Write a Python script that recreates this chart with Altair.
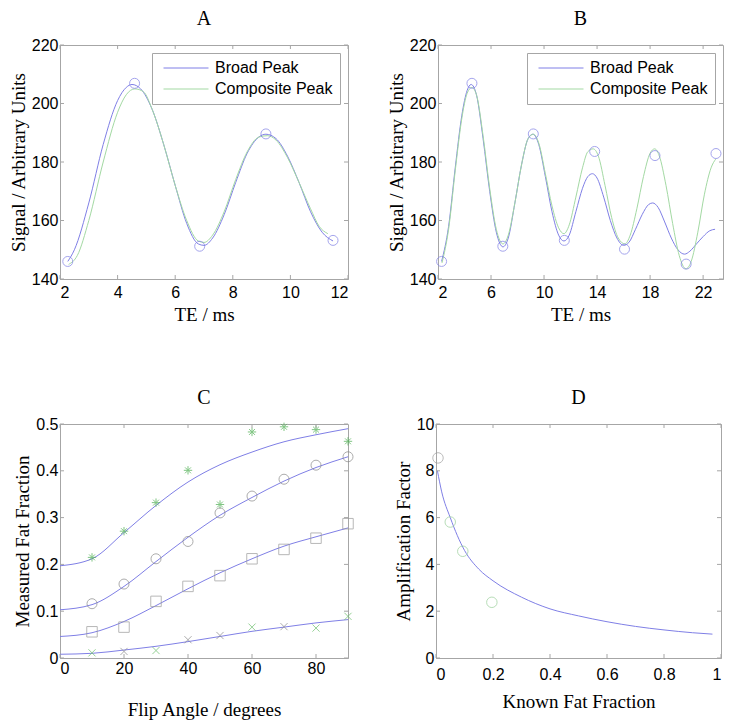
import altair as alt
import pandas as pd

BLUE = "#7f7fe6"
GREEN = "#a3d9a3"
GRAY = "#a6a6a6"
SANS = "Liberation Sans"
SERIF = "Liberation Serif"

# ---------------- Panel A ----------------
a_broad_x = [2.27, 2.5, 3.0, 3.5, 4.0, 4.3, 4.5, 4.8, 5.2, 5.6, 6.0, 6.4, 6.8, 7.0, 7.3, 7.7, 8.1, 8.5, 8.9, 9.15, 9.5, 9.9, 10.3, 10.7, 11.1, 11.48]
a_broad_y = [146, 150, 166, 186, 201, 205.5, 206.5, 205, 198, 186, 172, 159, 152, 151.5, 154, 162, 173, 183, 188.5, 189.5, 188, 182, 173, 163, 156, 153]
a_comp_x = [2.3, 2.6, 3.0, 3.5, 4.0, 4.3, 4.6, 4.9, 5.2, 5.6, 6.0, 6.4, 6.8, 7.0, 7.3, 7.7, 8.1, 8.5, 8.9, 9.2, 9.5, 9.9, 10.3, 10.7, 11.0, 11.3]
a_comp_y = [145, 148, 160, 180, 197, 203, 205, 204, 198, 186, 172, 160, 153, 152.5, 155, 163, 174, 183.5, 188.5, 189, 187.5, 181.5, 173, 164, 158, 155.5]
a_pts_x = [2.27, 4.59, 6.85, 9.15, 11.48]
a_pts_y = [146.0, 206.9, 151.2, 189.6, 153.2]

# ---------------- Panel B ----------------
b_broad_x = [2.27, 2.8, 3.3, 3.8, 4.2, 4.5, 4.9, 5.4, 5.9, 6.4, 6.9, 7.3, 7.8, 8.3, 8.8, 9.15, 9.6, 10.1, 10.6, 11.1, 11.5, 11.9, 12.4, 12.9, 13.3, 13.65, 14.0, 14.5, 15.0, 15.5, 16.0, 16.4, 16.9, 17.4, 17.9, 18.2, 18.6, 19.1, 19.6, 20.1, 20.6, 21.0, 21.5, 22.0, 22.5, 22.9]
b_broad_y = [146, 158, 178, 196, 204.5, 206.5, 203, 188, 170, 156, 151, 154, 166, 179, 188, 189.5, 186, 175, 163, 155, 153, 155, 163, 171, 175, 176, 174.5, 168, 160, 154, 151.5, 152.5, 157, 162, 165.5, 166, 164.5, 159.5, 154, 150, 148.5, 149.5, 152, 154.5, 156.5, 157]
b_comp_x = [2.3, 2.8, 3.3, 3.8, 4.2, 4.55, 4.9, 5.4, 5.9, 6.4, 6.9, 7.3, 7.8, 8.3, 8.8, 9.2, 9.6, 10.1, 10.6, 11.1, 11.5, 11.9, 12.4, 12.9, 13.3, 13.7, 14.1, 14.6, 15.1, 15.6, 16.1, 16.5, 17.0, 17.5, 18.0, 18.35, 18.7, 19.2, 19.7, 20.2, 20.7, 21.1, 21.6, 22.1, 22.6, 22.95]
b_comp_y = [145.5, 157, 177, 195, 203.5, 205.5, 203, 189, 171, 157, 152, 155, 166, 179, 188, 189.5, 186.5, 176, 165, 157.5, 155.5, 158.5, 168, 178, 183.5, 184.5, 182, 172, 161, 154, 152, 155, 164, 175, 183, 184.5, 182, 172, 159, 148, 143.5, 146, 156, 169, 178, 181]
b_pts_x = [2.27, 4.56, 6.89, 9.19, 11.53, 13.82, 16.07, 18.37, 20.72, 22.97]
b_pts_y = [146.0, 206.9, 151.2, 189.6, 153.2, 183.6, 150.2, 182.2, 145.1, 182.9]

# ---------------- Panel C ----------------
c_angles = [10, 20, 30, 40, 50, 60, 70, 80, 90]
c_star = [0.215, 0.271, 0.332, 0.401, 0.328, 0.483, 0.494, 0.488, 0.463]
c_circ = [0.116, 0.158, 0.212, 0.249, 0.310, 0.346, 0.382, 0.412, 0.430]
c_square = [0.056, 0.066, 0.121, 0.153, 0.176, 0.212, 0.232, 0.256, 0.287]
c_cross = [0.011, 0.014, 0.016, 0.039, 0.048, 0.066, 0.067, 0.064, 0.089]
c_cross_col = ["g", "k", "g", "k", "k", "g", "k", "g", "g"]
c_fit_x = [0, 10, 20, 30, 40, 50, 60, 70, 80, 90]
c_fit1 = [0.197, 0.212, 0.268, 0.326, 0.376, 0.413, 0.440, 0.462, 0.477, 0.490]
c_fit2 = [0.103, 0.114, 0.153, 0.206, 0.258, 0.305, 0.343, 0.378, 0.407, 0.430]
c_fit3 = [0.046, 0.054, 0.078, 0.112, 0.148, 0.182, 0.212, 0.239, 0.259, 0.278]
c_fit4 = [0.008, 0.010, 0.017, 0.025, 0.035, 0.046, 0.057, 0.066, 0.075, 0.082]

# ---------------- Panel D ----------------
d_fit_x = [0.005, 0.02, 0.05, 0.1, 0.15, 0.2, 0.3, 0.4, 0.5, 0.6, 0.7, 0.8, 0.9, 0.97]
d_fit_y = [8.0, 7.1, 6.0, 4.6, 3.8, 3.3, 2.6, 2.1, 1.8, 1.55, 1.35, 1.2, 1.08, 1.02]
d_pts_x = [0.007, 0.05, 0.094, 0.196]
d_pts_y = [8.55, 5.81, 4.56, 2.38]
d_pts_col = ["k", "g", "g", "g"]

# ticks
a_xticks = [2, 4, 6, 8, 10, 12]
b_xticks = [2, 6, 10, 14, 18, 22]
ab_yticks = [140, 160, 180, 200, 220]
c_xticks = [0, 20, 40, 60, 80]
c_yticks = [0, 0.1, 0.2, 0.3, 0.4, 0.5]
d_xticks = [0, 0.2, 0.4, 0.6, 0.8, 1]
d_yticks = [0, 2, 4, 6, 8, 10]

STAR = "M-1,0L1,0M0,-1L0,1M-0.7,-0.7L0.7,0.7M-0.7,0.7L0.7,-0.7"
XMARK = "M-0.8,-0.8L0.8,0.8M-0.8,0.8L0.8,-0.8"
LEGEND_LINE = "M-3,0L3,0"
LABEL_EXPR = "toString(datum.value)"


def inner_ticks(xt, yt, W, H, L=4):
    dx = pd.DataFrame({"t": xt})
    dy = pd.DataFrame({"t": yt})
    base_x = alt.Chart(dx).mark_rule(color=GRAY, strokeWidth=1)
    base_y = alt.Chart(dy).mark_rule(color=GRAY, strokeWidth=1)
    return [
        base_x.encode(x="t:Q", y=alt.value(H), y2=alt.value(H - L)),
        base_x.encode(x="t:Q", y=alt.value(0), y2=alt.value(L)),
        base_y.encode(y="t:Q", x=alt.value(0), x2=alt.value(L)),
        base_y.encode(y="t:Q", x=alt.value(W), x2=alt.value(W - L)),
    ]


def xaxis(title, vals, pad=5, tpad=5):
    return alt.Axis(title=title, values=vals, labelExpr=LABEL_EXPR, ticks=False, labelPadding=pad,
                    titlePadding=tpad, grid=False)


def yaxis(title, vals, tpad=3):
    return alt.Axis(title=title, values=vals, labelExpr=LABEL_EXPR, ticks=False, labelPadding=2,
                    titlePadding=tpad, grid=False)


def signal_panel(letter, bx, by, cx, cy, px, py, xdom, xt, W, H):
    lines = pd.DataFrame({
        "x": bx + cx,
        "y": by + cy,
        "series": ["Broad Peak"] * len(bx) + ["Composite Peak"] * len(cx),
    })
    pts = pd.DataFrame({"x": px, "y": py})
    xs = alt.Scale(domain=xdom, nice=False, zero=False)
    ys = alt.Scale(domain=[140, 220], nice=False, zero=False)
    line = alt.Chart(lines).mark_line(strokeWidth=1, interpolate="monotone").encode(
        x=alt.X("x:Q", scale=xs, axis=xaxis("TE / ms", xt)),
        y=alt.Y("y:Q", scale=ys, axis=yaxis("Signal / Arbitrary Units", ab_yticks)),
        color=alt.Color("series:N",
                        scale=alt.Scale(domain=["Broad Peak", "Composite Peak"], range=[BLUE, GREEN]),
                        legend=alt.Legend(title=None, orient="top-right", offset=8,
                                          strokeColor=GRAY, fillColor="white", padding=7,
                                          symbolType=LEGEND_LINE, symbolSize=225,
                                          symbolOffset=19, labelOffset=21,
                                          symbolStrokeWidth=1, labelFont=SANS, labelFontSize=16,
                                          labelColor="black", rowPadding=5)),
        order=alt.Order("x:Q"),
    )
    circ = alt.Chart(pts).mark_point(shape="circle", size=100, filled=False, color=BLUE,
                                     strokeWidth=1).encode(x="x:Q", y="y:Q")
    return alt.layer(line, circ, *inner_ticks(xt, ab_yticks, W, H)).properties(
        width=W, height=H, title=letter)


WA, HA = 288, 234
WB = 285

chart_a = signal_panel("A", a_broad_x, a_broad_y, a_comp_x, a_comp_y, a_pts_x, a_pts_y,
                       [2, 12], a_xticks, WA, HA)
chart_b = signal_panel("B", b_broad_x, b_broad_y, b_comp_x, b_comp_y, b_pts_x, b_pts_y,
                       [2, 23.5], b_xticks, WB, HA)

# Panel C
fits = pd.DataFrame({
    "x": c_fit_x * 4,
    "y": c_fit1 + c_fit2 + c_fit3 + c_fit4,
    "k": ["1"] * 10 + ["2"] * 10 + ["3"] * 10 + ["4"] * 10,
})
cxs = alt.Scale(domain=[0, 90], nice=False)
cys = alt.Scale(domain=[0, 0.5], nice=False)
c_lines = alt.Chart(fits).mark_line(strokeWidth=1, color=BLUE, interpolate="monotone").encode(
    x=alt.X("x:Q", scale=cxs, axis=xaxis("Flip Angle / degrees", c_xticks, pad=2, tpad=24)),
    y=alt.Y("y:Q", scale=cys, axis=yaxis("Measured Fat Fraction", c_yticks)),
    detail="k:N",
)
star_df = pd.DataFrame({"x": c_angles, "y": c_star})
circ_df = pd.DataFrame({"x": c_angles, "y": c_circ})
sq_df = pd.DataFrame({"x": c_angles, "y": c_square})
cr_df = pd.DataFrame({"x": c_angles, "y": c_cross, "c": c_cross_col})
c_star_m = alt.Chart(star_df).mark_point(shape=STAR, size=70, filled=False, color="#4caf50",
                                         strokeWidth=1).encode(x="x:Q", y="y:Q")
c_circ_m = alt.Chart(circ_df).mark_point(shape="circle", size=100, filled=False, color="#8a8a8a",
                                         strokeWidth=1).encode(x="x:Q", y="y:Q")
c_sq_m = alt.Chart(sq_df).mark_point(shape="square", size=110, filled=False, color="#9a9a9a",
                                     strokeWidth=1).encode(x="x:Q", y="y:Q")
c_cr_m = alt.Chart(cr_df).mark_point(shape=XMARK, size=80, filled=False, strokeWidth=1).encode(
    x="x:Q", y="y:Q",
    color=alt.Color("c:N", scale=alt.Scale(domain=["g", "k"], range=["#6cbf6c", "#8a8a8a"]),
                    legend=None),
)
chart_c = alt.layer(c_lines, c_star_m, c_circ_m, c_sq_m, c_cr_m,
                    *inner_ticks(c_xticks, c_yticks, WA, HA)).properties(
    width=WA, height=HA, title="C")

# Panel D
dfit = pd.DataFrame({"x": d_fit_x, "y": d_fit_y})
dpts = pd.DataFrame({"x": d_pts_x, "y": d_pts_y, "c": d_pts_col})
dxs = alt.Scale(domain=[0, 1], nice=False)
dys = alt.Scale(domain=[0, 10], nice=False)
d_line = alt.Chart(dfit).mark_line(strokeWidth=1, color=BLUE, interpolate="monotone").encode(
    x=alt.X("x:Q", scale=dxs, axis=xaxis("Known Fat Fraction", d_xticks, pad=8, tpad=10)),
    y=alt.Y("y:Q", scale=dys, axis=yaxis("Amplification Factor", d_yticks)),
)
d_pt = alt.Chart(dpts).mark_point(shape="circle", size=110, filled=False, strokeWidth=1).encode(
    x="x:Q", y="y:Q",
    color=alt.Color("c:N", scale=alt.Scale(domain=["g", "k"], range=["#9ad09a", "#a0a0a0"]),
                    legend=None),
)
chart_d = alt.layer(d_line, d_pt, *inner_ticks(d_xticks, d_yticks, WB, HA)).properties(
    width=WB, height=HA, title="D")

row1 = alt.hconcat(chart_a, chart_b, spacing=37).resolve_scale(color="independent").resolve_legend(color="independent")
row2 = alt.hconcat(chart_c, chart_d, spacing=37).resolve_scale(color="independent").resolve_legend(color="independent")

chart = alt.vconcat(row1, row2, spacing=62).resolve_scale(color="independent").resolve_legend(
    color="independent").properties(padding=0, background="white").configure_view(
    stroke=GRAY, strokeWidth=1).configure_axis(
    domainColor=GRAY, labelFont=SANS, labelFontSize=16, labelColor="black",
    titleFont=SERIF, titleFontSize=19, titleFontWeight="normal", titleColor="black").configure_title(
    font=SERIF, fontSize=20, fontWeight="normal", color="black", offset=8, anchor="middle")

chart.save("out.html", embed_options={"renderer": "svg", "actions": False})
